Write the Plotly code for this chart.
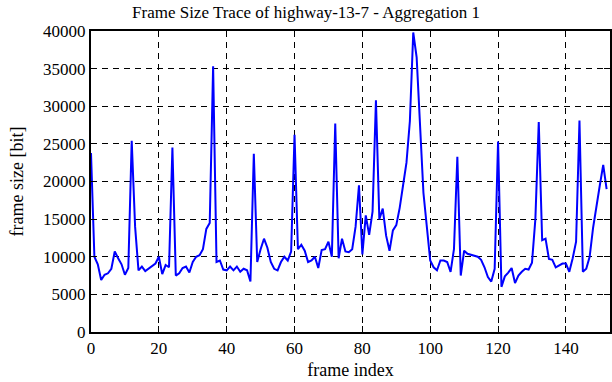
import plotly.graph_objects as go

frame_index = list(range(153))
frame_size = [
    23800, 10000, 9000, 6900, 7600, 7800, 8400, 10700, 9800, 9000,
    7600, 8500, 25400, 14000, 8200, 8700, 8100, 8400, 8700, 9100,
    10000, 7700, 8900, 8600, 24500, 7500, 7800, 8500, 8700, 7900,
    9300, 10000, 10200, 11000, 13700, 14500, 35300, 9300, 9500, 8300,
    8200, 8700, 8200, 8700, 8000, 8400, 8200, 6700, 23700, 9300,
    11000, 12400, 11200, 9300, 8400, 8200, 9300, 10000, 9500, 10700,
    26200, 11000, 11600, 10800, 9300, 9500, 10000, 8500, 10900, 11000,
    12000, 10000, 27700, 9800, 12400, 10700, 10600, 11000, 14000, 19500,
    10300, 15500, 12900, 16000, 30800, 15000, 16400, 12800, 10800, 13500,
    14200, 16500, 19500, 22500, 28000, 39800, 36500, 27500, 18500, 14000,
    9500, 8600, 8200, 9500, 9500, 9300, 8000, 11000, 23300, 7500,
    10800, 10400, 10300, 10200, 10000, 9600, 8600, 7300, 6700, 8400,
    25300, 6000, 7400, 7900, 8500, 6500, 7500, 8000, 8400, 8300,
    9200, 15000, 27900, 12200, 12400, 9700, 9600, 8600, 8900, 9100,
    9100, 8000, 9800, 12000, 28100, 8000, 8400, 10000, 13800, 16400,
    19500, 22200, 19000,
]

x_ticks = [0, 20, 40, 60, 80, 100, 120, 140]
y_ticks = [0, 5000, 10000, 15000, 20000, 25000, 30000, 35000, 40000]

title_text = "Frame Size Trace of highway-13-7 - Aggregation 1"
x_label = "frame index"
y_label = "frame size [bit]"

font_family = "Liberation Serif, Times New Roman, serif"

fig = go.Figure()
fig.add_trace(go.Scatter(
    x=frame_index, y=frame_size, mode="lines",
    line=dict(color="#0000ff", width=2),
    showlegend=False,
))

axis_common = dict(
    showline=True, linecolor="black", linewidth=2, mirror="ticks",
    ticks="inside", ticklen=6, tickcolor="black", tickwidth=1,
    showgrid=True, gridcolor="black", gridwidth=1, griddash="6px,5px",
    zeroline=False, automargin=False,
    tickfont=dict(family=font_family, size=17, color="black"),
)

fig.update_layout(
    width=612, height=382,
    paper_bgcolor="white", plot_bgcolor="white",
    margin=dict(l=91, r=2, t=31, b=50),
    title=dict(text=title_text, x=0.5, xanchor="center", y=0.968, yanchor="middle",
               font=dict(family=font_family, size=17, color="black")),
    font=dict(family=font_family, size=17, color="black"),
)
fig.update_xaxes(range=[0, 153], tickvals=x_ticks, ticktext=[str(v) for v in x_ticks],
                 title=dict(text=x_label, standoff=6,
                            font=dict(family=font_family, size=18, color="black")),
                 **axis_common)
fig.update_yaxes(range=[0, 40000], tickvals=y_ticks, ticktext=[str(v) for v in y_ticks],
                 title=dict(text=y_label, standoff=15,
                            font=dict(family=font_family, size=18, color="black")),
                 **axis_common)

fig.write_html(
    "out.html",
    config={"displayModeBar": False},
    post_script="document.body.style.margin='0';document.body.style.overflow='hidden';",
)
